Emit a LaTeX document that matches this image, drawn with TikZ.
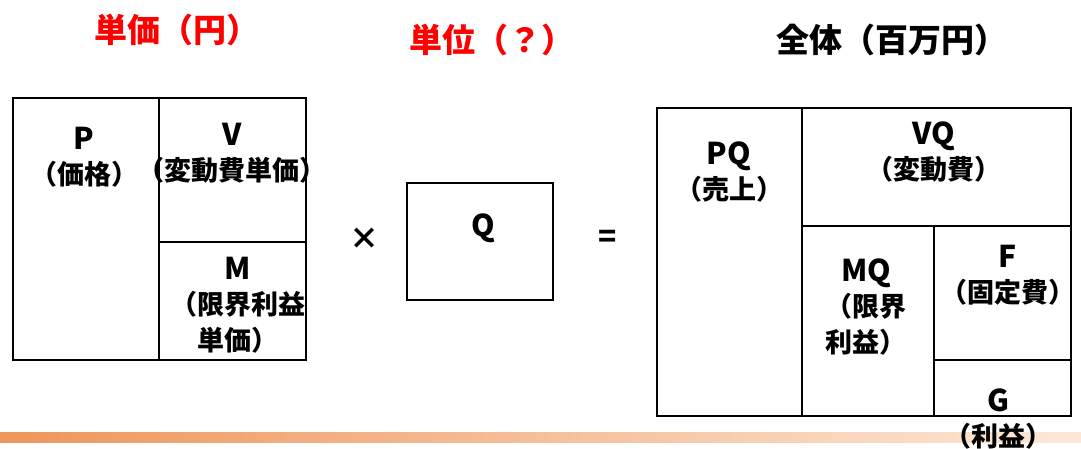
\documentclass[tikz,border=0pt]{standalone}
\usepackage{fontspec}
\setmainfont{Noto Sans CJK JP}
\definecolor{titlered}{RGB}{255,0,0}
\definecolor{bandL}{RGB}{238,150,92}
\definecolor{bandR}{RGB}{252,232,216}
\newcommand{\bigltr}[1]{{\fontsize{30}{35.5}\selectfont #1}}
\tikzset{
  box/.style={draw=black, line width=1.8pt},
  lbl/.style={font=\bfseries\fontsize{27}{35.5}\selectfont, align=center, inner sep=0pt},
  ttl/.style={font=\bfseries\fontsize{33}{38}\selectfont, inner sep=0pt},
  opsym/.style={font=\bfseries\fontsize{30}{32}\selectfont, inner sep=0pt}
}
\begin{document}
\begin{tikzpicture}[x=1pt,y=-1pt]
\useasboundingbox (0,0) rectangle (1081,448);
% bottom band
\shade[left color=bandL, right color=bandR] (0,432) rectangle (1081,442);
% titles
\node[ttl, text=titlered] (t1) at (177,30) {単価（円）};
\node[ttl, text=titlered] (t2) at (492,40) {単位（？）};
\node[ttl] (t3) at (892,40) {全体（百万円）};
% left box
\draw[box] (13,98) rectangle (306,360);
\draw[box] (159,98) -- (159,360);
\draw[box] (159,242) -- (306,242);
\node[lbl] (p) at (84,157) {\bigltr{P}\\（価格）};
\node[lbl] (v) at (232,153) {\bigltr{V}\\（変動費単価）};
\node[lbl] (m) at (238,305) {\bigltr{M}\\（限界利益\\単価）};
% operators
\node[opsym] (times) at (364,239) {×};
\node[opsym] (eq) at (608,239) {=};
% middle box
\draw[box] (407,183) rectangle (553,300);
\node[lbl] (q) at (483,228) {\bigltr{Q}};
% right box
\draw[box] (657,108) rectangle (1071,416);
\draw[box] (802,108) -- (802,416);
\draw[box] (802,226) -- (1071,226);
\draw[box] (934,226) -- (934,416);
\draw[box] (934,360) -- (1071,360);
\node[lbl] (pq) at (729,172) {\bigltr{PQ}\\（売上）};
\node[lbl] (vq) at (934,152) {\bigltr{VQ}\\（変動費）};
\node[lbl] (mq) at (866,307) {\bigltr{MQ}\\（限界\\利益）};
\node[lbl] (f) at (1008,275) {\bigltr{F}\\（固定費）};
\node[lbl] (g) at (998,419) {\bigltr{G}\\（利益）};
\end{tikzpicture}
\end{document}
